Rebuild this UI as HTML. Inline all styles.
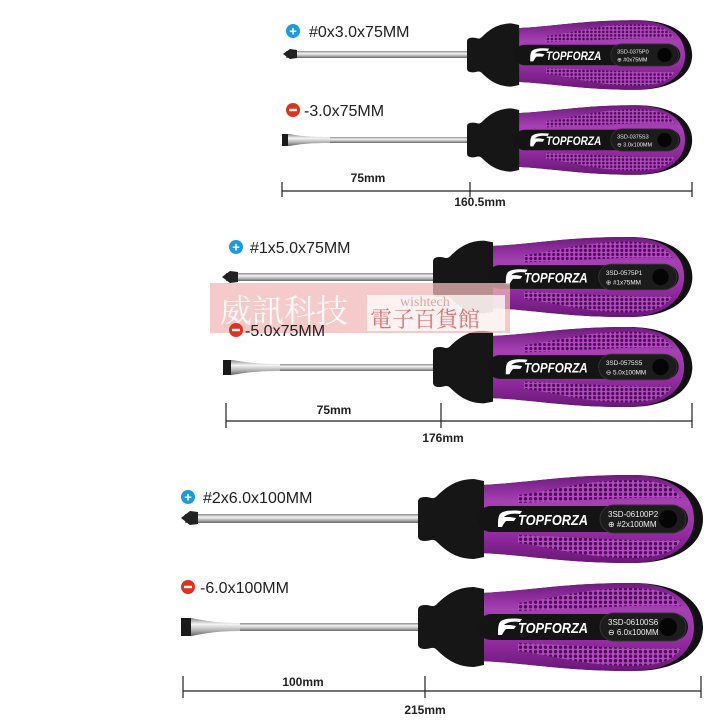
<!DOCTYPE html>
<html><head><meta charset="utf-8"><style>
html,body{margin:0;padding:0;background:#fff;}
svg{display:block;}
.lbl{font-family:"Liberation Sans",sans-serif;font-size:16px;fill:#222;}
.dim{font-family:"Liberation Sans",sans-serif;font-size:12px;font-weight:bold;fill:#222;}
</style></head><body>
<svg width="720" height="721" viewBox="0 0 720 721" xmlns="http://www.w3.org/2000/svg">
<defs>
<linearGradient id="pur" x1="0" y1="0" x2="0" y2="1">
<stop offset="0" stop-color="#6f1a7e"/><stop offset="0.3" stop-color="#a640b4"/><stop offset="0.6" stop-color="#9a30a8"/><stop offset="1" stop-color="#6a1778"/></linearGradient>
<linearGradient id="steel" x1="0" y1="0" x2="0" y2="1">
<stop offset="0" stop-color="#8a8a8a"/><stop offset="0.35" stop-color="#f4f4f4"/><stop offset="0.7" stop-color="#b0b0b0"/><stop offset="1" stop-color="#666"/></linearGradient>
<pattern id="dots" width="5" height="4.5" patternUnits="userSpaceOnUse">
<rect width="5" height="4.5" fill="#b548c2"/><circle cx="2.5" cy="2.25" r="1.7" fill="#4a0c55"/></pattern>
<g id="handle">
<path d="M64,-34 C110,-36 145,-44 215,-44 C262,-44 285,-24 285,0 C285,24 262,44 215,44 C145,44 110,36 64,34 Z" fill="#111"/>
<path d="M62,-34 C110,-36 145,-44 213,-44 C255,-44 276,-24 276,0 C276,24 255,44 213,44 C145,44 110,36 62,34 Z" fill="url(#pur)"/>
<path d="M0,-17 C0,-20 2,-22 7,-22 C13,-22 15,-19 19,-23 C29,-33 40,-40 56,-40 L66,-38 L66,38 L56,40 C40,40 29,33 19,23 C15,19 13,22 7,22 C2,22 0,20 0,17 Z" fill="#161616"/>
<path d="M100,-24 C135,-28 160,-38 212,-39 C243,-39 258,-32 263,-21 C240,-23 190,-20 100,-16 Z" fill="url(#dots)"/>
<path d="M100,24 C135,28 160,38 212,39 C243,39 258,32 263,21 C240,23 190,20 100,16 Z" fill="url(#dots)"/>
<rect x="60" y="-13" width="210" height="26" rx="13" fill="#141414"/>
<rect x="182" y="-14" width="86" height="28" rx="14" fill="#1c1c1c" stroke="#333" stroke-width="1"/>
<ellipse cx="250" cy="0" rx="9" ry="9" fill="#050505"/>
<path d="M82,-5 C86,-9 96,-9 104,-8 L102,-5 C95,-6 89,-5 86,-2 L92,-2 L98,-1 L96,2 L88,2 C86,4 85,6 84,8 L80,8 C80,2 80,-2 82,-5 Z" fill="#fff"/>
<text x="100" y="6" font-family="Liberation Sans,sans-serif" font-size="15" font-weight="bold" font-style="italic" fill="#fff" textLength="70" lengthAdjust="spacingAndGlyphs">TOPFORZA</text>
</g>
</defs>

<!-- Set 1 -->
<rect x="286" y="51" width="185" height="7" fill="url(#steel)"/>
<path d="M283,54 L290,49 L297,50 L297,58 L290,59 Z" fill="#222"/>
<g transform="translate(467,55) scale(0.79)"><use href="#handle"/>
<text x="190" y="-2" font-family="Liberation Sans,sans-serif" font-size="7" fill="#eee">3SD-0375P0</text>
<text x="190" y="8" font-family="Liberation Sans,sans-serif" font-size="7" fill="#eee">⊕ #0x75MM</text></g>
<rect x="290" y="137" width="181" height="6" fill="url(#steel)"/>
<path d="M283,134 L290,134 C300,136 310,137 330,137 L330,143 C310,143 300,144 290,146 L283,146 Z" fill="url(#steel)"/>
<rect x="282" y="134" width="6" height="12" fill="#1a1a1a"/>
<g transform="translate(467,140) scale(0.79)"><use href="#handle"/>
<text x="190" y="-2" font-family="Liberation Sans,sans-serif" font-size="7" fill="#eee">3SD-0375S3</text>
<text x="190" y="8" font-family="Liberation Sans,sans-serif" font-size="7" fill="#eee">⊖ 3.0x100MM</text></g>
<circle cx="293" cy="31" r="7" fill="#1e9be0"/><text x="293" y="35.5" text-anchor="middle" font-family="Liberation Sans" font-size="13" font-weight="bold" fill="#fff">+</text>
<text class="lbl" x="309" y="37">#0x3.0x75MM</text>
<circle cx="293" cy="110" r="7" fill="#e0301e"/><rect x="289" y="108.8" width="8" height="2.4" fill="#fff"/>
<text class="lbl" x="304" y="116">-3.0x75MM</text>
<g stroke="#222" stroke-width="1.2"><line x1="282" y1="191" x2="692" y2="191"/><line x1="282" y1="182" x2="282" y2="197"/><line x1="470" y1="182" x2="470" y2="197"/><line x1="692" y1="182" x2="692" y2="197"/></g>
<text class="dim" x="368" y="182" text-anchor="middle">75mm</text>
<text class="dim" x="480" y="206" text-anchor="middle">160.5mm</text>

<!-- Set 2 -->
<rect x="226" y="273" width="210" height="8" fill="url(#steel)"/>
<path d="M222,277 L230,271 L238,272 L238,282 L230,283 Z" fill="#222"/>
<g transform="translate(433,277) scale(0.91)"><use href="#handle"/>
<text x="190" y="-2" font-family="Liberation Sans,sans-serif" font-size="7" fill="#eee">3SD-0575P1</text>
<text x="190" y="8" font-family="Liberation Sans,sans-serif" font-size="7" fill="#eee">⊕ #1x75MM</text></g>
<rect x="230" y="364" width="206" height="7" fill="url(#steel)"/>
<path d="M224,360 L232,360 C245,362 255,364 280,364 L280,371 C255,371 245,373 232,375 L224,375 Z" fill="url(#steel)"/>
<rect x="223" y="360" width="8" height="15" fill="#1a1a1a"/>
<g transform="translate(433,367) scale(0.91)"><use href="#handle"/>
<text x="190" y="-2" font-family="Liberation Sans,sans-serif" font-size="7" fill="#eee">3SD-0575S5</text>
<text x="190" y="8" font-family="Liberation Sans,sans-serif" font-size="7" fill="#eee">⊖ 5.0x100MM</text></g>
<circle cx="236" cy="247" r="7" fill="#1e9be0"/><text x="236" y="251.5" text-anchor="middle" font-family="Liberation Sans" font-size="13" font-weight="bold" fill="#fff">+</text>
<text class="lbl" x="250" y="253">#1x5.0x75MM</text>
<g stroke="#222" stroke-width="1.2"><line x1="226" y1="421" x2="692" y2="421"/><line x1="226" y1="403" x2="226" y2="428"/><line x1="441" y1="403" x2="441" y2="428"/><line x1="692" y1="403" x2="692" y2="428"/></g>
<text class="dim" x="334" y="414" text-anchor="middle">75mm</text>
<text class="dim" x="443" y="442" text-anchor="middle">176mm</text>

<!-- watermark -->
<rect x="210" y="283" width="300" height="50" fill="#f0b8b8" opacity="0.75"/>
<text x="220" y="322" font-family="Noto Serif CJK SC,serif" font-size="32" fill="#fff" opacity="0.9">威訊科技</text>
<rect x="367" y="295" width="138" height="36" fill="#fff" opacity="0.75"/>
<text x="400" y="306" font-family="Liberation Serif,serif" font-size="14" fill="#e8a0a0">wishtech</text>
<text x="370" y="327" font-family="Noto Serif CJK SC,serif" font-size="22" fill="#e07070">電子百貨館</text>
<circle cx="236" cy="330" r="7" fill="#e0301e"/><rect x="232" y="328.8" width="8" height="2.4" fill="#fff"/>
<text class="lbl" x="245" y="336">-5.0x75MM</text>

<!-- Set 3 -->
<rect x="185" y="514" width="236" height="9" fill="url(#steel)"/>
<path d="M181,518 L190,511 L198,512 L198,524 L190,525 Z" fill="#222"/>
<g transform="translate(418,519)"><use href="#handle"/>
<text x="190" y="-2" font-family="Liberation Sans,sans-serif" font-size="8" fill="#eee">3SD-06100P2</text>
<text x="190" y="8" font-family="Liberation Sans,sans-serif" font-size="8" fill="#eee">⊕ #2x100MM</text></g>
<rect x="190" y="623" width="231" height="8" fill="url(#steel)"/>
<path d="M183,618 L192,618 C205,621 220,623 240,623 L240,631 C220,631 205,633 192,636 L183,636 Z" fill="url(#steel)"/>
<rect x="181" y="618" width="10" height="18" fill="#1a1a1a"/>
<g transform="translate(418,627)"><use href="#handle"/>
<text x="190" y="-2" font-family="Liberation Sans,sans-serif" font-size="8" fill="#eee">3SD-06100S6</text>
<text x="190" y="8" font-family="Liberation Sans,sans-serif" font-size="8" fill="#eee">⊖ 6.0x100MM</text></g>
<circle cx="188" cy="497" r="7" fill="#1e9be0"/><text x="188" y="501.5" text-anchor="middle" font-family="Liberation Sans" font-size="13" font-weight="bold" fill="#fff">+</text>
<text class="lbl" x="203" y="503">#2x6.0x100MM</text>
<circle cx="188" cy="587" r="7" fill="#e0301e"/><rect x="184" y="585.8" width="8" height="2.4" fill="#fff"/>
<text class="lbl" x="200" y="593">-6.0x100MM</text>
<g stroke="#222" stroke-width="1.2"><line x1="183" y1="691" x2="701" y2="691"/><line x1="183" y1="676" x2="183" y2="698"/><line x1="425" y1="676" x2="425" y2="698"/><line x1="701" y1="676" x2="701" y2="698"/></g>
<text class="dim" x="303" y="686" text-anchor="middle">100mm</text>
<text class="dim" x="425" y="714" text-anchor="middle">215mm</text>
</svg>
</body></html>
